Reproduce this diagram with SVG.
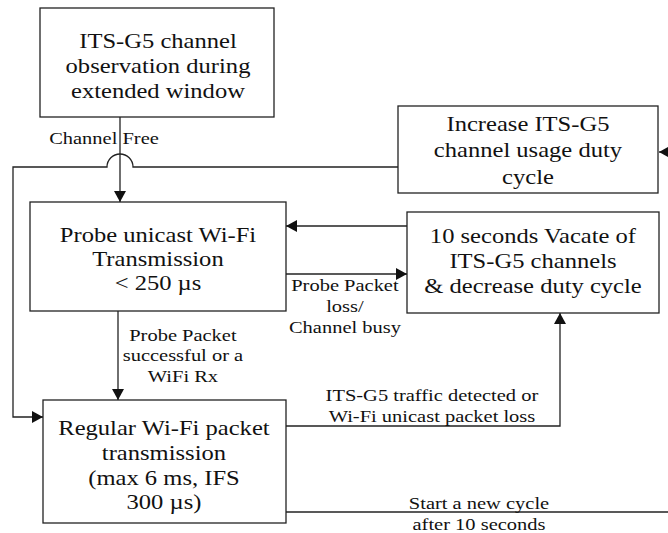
<svg xmlns="http://www.w3.org/2000/svg" width="668" height="533" viewBox="0 0 668 533">
<style>
  .box { fill: #fff; stroke: #222; stroke-width: 1.3; }
  .ln { fill: none; stroke: #222; stroke-width: 1.3; }
  .arr { marker-end: url(#ah); }
  text { font-family: "Liberation Serif", "Times New Roman", serif; fill: #111; text-anchor: middle;
         transform-box: fill-box; transform-origin: center; transform: scaleX(1.17); }
  .m { font-size: 21px; }
  .l { font-size: 17.5px; }
</style>
<defs>
  <marker id="ah" viewBox="0 0 11 12" refX="11" refY="6" markerWidth="11" markerHeight="12" markerUnits="userSpaceOnUse" orient="auto">
    <path d="M0,0 L11,6 L0,12 z" fill="#111"/>
  </marker>
</defs>

<g id="connectors">
  <path class="ln arr" d="M120,117 V202"/>
  <path class="ln arr" d="M398,167 H133 A13,13 0 0 0 107,167 H13 V417 H43"/>
  <path class="ln arr" d="M407,226 H286"/>
  <path class="ln arr" d="M286,274 H407"/>
  <path class="ln arr" d="M118,311 V400"/>
  <path class="ln arr" d="M286,426 H560 V313"/>
  <path class="ln" d="M286,512 H668"/>
  <path class="ln arr" d="M672,152 H659"/>
  <text class="l" x="104" y="144">Channel Free</text>
  <text class="l" x="345" y="291">Probe Packet</text>
  <text class="l" x="345" y="312">loss/</text>
  <text class="l" x="345" y="333">Channel busy</text>
  <text class="l" x="183" y="341">Probe Packet</text>
  <text class="l" x="183" y="361.5">successful or a</text>
  <text class="l" x="183" y="382">WiFi Rx</text>
  <text class="l" x="432" y="401">ITS-G5 traffic detected or</text>
  <text class="l" x="432" y="422">Wi-Fi unicast packet loss</text>
  <text class="l" x="479" y="509">Start a new cycle</text>
  <text class="l" x="479" y="530">after 10 seconds</text>
</g>

<g id="observation">
  <rect class="box" x="40" y="8" width="234" height="109"/>
  <text class="m" x="158" y="48">ITS-G5 channel</text>
  <text class="m" x="158" y="73">observation during</text>
  <text class="m" x="158" y="98">extended window</text>
</g>

<g id="increase">
  <rect class="box" x="398" y="106" width="260" height="87"/>
  <text class="m" x="528" y="131">Increase ITS-G5</text>
  <text class="m" x="528" y="157">channel usage duty</text>
  <text class="m" x="528" y="184">cycle</text>
</g>

<g id="probe">
  <rect class="box" x="30" y="202" width="256" height="109"/>
  <text class="m" x="158" y="242">Probe unicast Wi-Fi</text>
  <text class="m" x="158" y="266">Transmission</text>
  <text class="m" x="158" y="290">&lt; 250 µs</text>
</g>

<g id="vacate">
  <rect class="box" x="407" y="212" width="252" height="101"/>
  <text class="m" x="533" y="243">10 seconds Vacate of</text>
  <text class="m" x="533" y="268">ITS-G5 channels</text>
  <text class="m" x="533" y="293">&amp; decrease duty cycle</text>
</g>

<g id="regular">
  <rect class="box" x="43" y="400" width="243" height="123"/>
  <text class="m" x="164" y="435">Regular Wi-Fi packet</text>
  <text class="m" x="164" y="460">transmission</text>
  <text class="m" x="164" y="485">(max 6 ms, IFS</text>
  <text class="m" x="164" y="509">300 µs)</text>
</g>
</svg>
